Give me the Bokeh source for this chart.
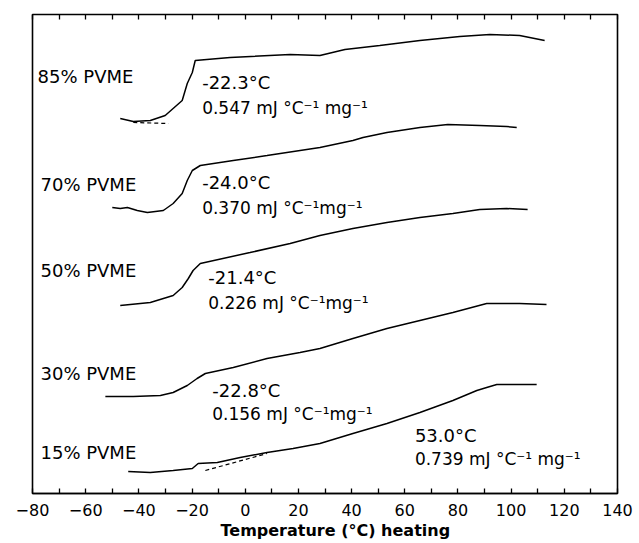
from bokeh.plotting import figure
from bokeh.models import Range1d, LinearAxis, FixedTicker, Title
from bokeh.core.properties import value
from bokeh.embed import file_html
from bokeh.resources import INLINE

# x axis ticks (°C)
x_ticks = [-80, -60, -40, -20, 0, 20, 40, 60, 80, 100, 120, 140]
x_minor = [-70, -50, -30, -10, 10, 30, 50, 70, 90, 110, 130]

# DSC traces: temperature (°C) and heat-flow signal (arbitrary units, offset per sample)
t85 = [-47.0, -42.1, -35.7, -30.1, -23.7, -21.8, -19.9, -18.8, -5.7, 16.9, 28.1, 37.5, 50.6, 65.7, 80.7, 92.0, 103.2, 112.6]
s85 = [375, 372, 373, 378, 393, 410, 421, 433, 436, 439, 438, 444, 448, 453, 457, 459, 458, 453]
t85_base = [-42.1, -28.9]
s85_base = [371, 370]

t70 = [-50.0, -47.0, -44.3, -40.6, -36.8, -30.8, -27.1, -23.7, -21.8, -19.9, -16.9, -4.5, 8.2, 28.1, 40.5, 44.3, 53.3, 65.7, 76.2, 88.2, 98.3, 102.1]
s70 = [286, 285, 286, 283, 281, 283, 290, 300, 313, 323, 328, 333, 338, 346, 353, 356, 361, 366, 369, 368, 367, 366]

t50 = [-47.0, -35.7, -27.1, -23.7, -21.4, -19.6, -16.9, 1.8, 16.9, 28.1, 40.5, 53.3, 65.7, 78.1, 88.2, 98.3, 106.2]
s50 = [188, 191, 198, 206, 215, 223, 230, 241, 250, 258, 265, 271, 276, 280, 284, 285, 284]

t30 = [-52.6, -42.1, -31.9, -27.1, -21.8, -18.1, -15.0, -4.5, 8.2, 20.6, 28.1, 40.5, 53.3, 65.7, 78.1, 90.8, 93.1, 103.2, 113.3]
s30 = [97, 97, 98, 101, 108, 115, 120, 126, 135, 141, 145, 155, 165, 173, 181, 190, 190, 190, 189]

t15 = [-44.0, -35.7, -27.1, -19.9, -17.7, -10.5, -1.9, 8.2, 18.0, 28.1, 40.5, 53.3, 65.7, 78.1, 87.1, 90.8, 94.6, 103.2, 109.6]
s15 = [22, 21, 23, 25, 30, 31, 36, 41, 45, 50, 60, 70, 81, 93, 103, 106, 109, 109, 109]
t15_base = [-15.0, 8.2]
s15_base = [23, 40]

sample_labels = ["85%  PVME", "70%  PVME", "50%  PVME", "30%  PVME", "15%  PVME"]
tg_labels = ["-22.3°C", "-24.0°C", "-21.4°C", "-22.8°C", "53.0°C"]
dcp_labels = ["0.547 mJ °C⁻¹ mg⁻¹", "0.370 mJ °C⁻¹mg⁻¹", "0.226 mJ °C⁻¹mg⁻¹",
              "0.156 mJ °C⁻¹mg⁻¹", "0.739 mJ °C⁻¹ mg⁻¹"]

# annotation anchor positions (data units)
sample_x = [-78.1, -77.0, -77.0, -77.0, -77.0]
sample_y = [417, 309, 223, 120, 41]
tg_x = [-16.2, -16.2, -13.9, -12.4, 63.8]
tg_y = [411, 311, 216, 103, 58]
dcp_y = [386, 286, 191, 80, 35]

p = figure(width=639, height=543, output_backend="svg", toolbar_location=None,
           x_range=Range1d(-80, 140), y_range=Range1d(0, 479),
           y_axis_location=None, min_border_left=32, min_border_right=22,
           min_border_top=14, min_border_bottom=50)
p.background_fill_color = "white"
p.border_fill_color = "white"
p.outline_line_color = "black"
p.outline_line_width = 1.6
p.grid.visible = False

ax = p.xaxis[0]
ax.ticker = FixedTicker(ticks=x_ticks, minor_ticks=x_minor)
ax.axis_line_width = 1.6
ax.major_tick_in = 5
ax.major_tick_out = 0
ax.minor_tick_in = 5
ax.minor_tick_out = 0
ax.major_tick_line_width = 1.3
ax.minor_tick_line_width = 1.3
ax.major_label_standoff = 10
ax.major_label_text_font = "DejaVu Sans"
ax.major_label_text_font_size = "16px"
ax.major_label_text_color = "black"

# top frame: tick marks only (all drawn as minor ticks, so no labels)
top = LinearAxis(ticker=FixedTicker(ticks=[], minor_ticks=sorted(x_ticks + x_minor)),
                 minor_tick_in=5, minor_tick_out=0, axis_line_color=None,
                 minor_tick_line_width=1.3, major_tick_line_color=None)
p.add_layout(top, "above")

for t, s in [(t85, s85), (t70, s70), (t50, s50), (t30, s30), (t15, s15)]:
    p.line(t, s, line_color="black", line_width=1.5)
for t, s in [(t85_base, s85_base), (t15_base, s15_base)]:
    p.line(t, s, line_color="black", line_width=1.2, line_dash="4 3")

font = value("DejaVu Sans")
p.text(x=sample_x, y=sample_y, text=sample_labels, text_font=font, text_font_size="18px",
       text_baseline="middle", text_align="left", text_color="black")
p.text(x=tg_x, y=tg_y, text=tg_labels, text_font=font, text_font_size="18px",
       text_baseline="middle", text_align="left", text_color="black")
p.text(x=tg_x, y=dcp_y, text=dcp_labels, text_font=font, text_font_size="17px",
       text_baseline="middle", text_align="left", text_color="black")

title = Title(text="Temperature (°C) heating", align="left", offset=188, standoff=0,
              text_font="DejaVu Sans", text_font_size="16px", text_font_style="bold",
              text_color="black")
p.add_layout(title, "below")

open("out.html", "w").write(file_html(p, INLINE))
